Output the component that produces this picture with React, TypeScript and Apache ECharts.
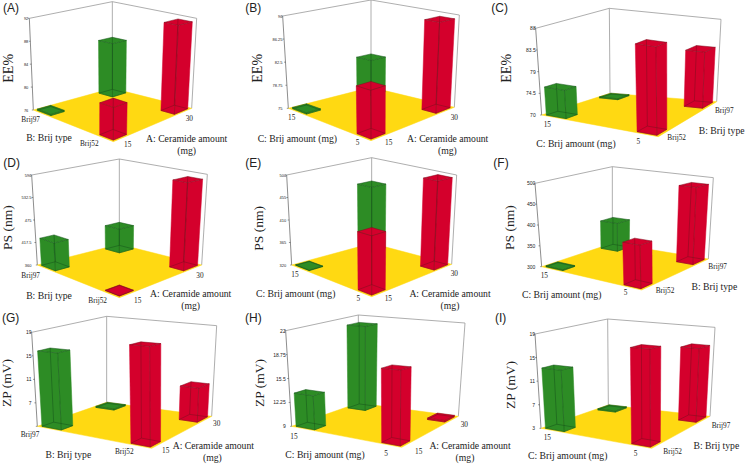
import React, { useEffect, useRef } from "react";
import * as echarts from "echarts";

// Values per panel, in drawing order: back, left, right, front corner of the floor
const ticksA = [76, 80, 84, 88, 92];
const valuesA = [85.6, 76.2, 91.4, 81.1];
const ticksB = [75, 78.75, 82.5, 86.25, 90];
const valuesB = [80.9, 75.2, 89.4, 82];
const ticksC = [70, 74.5, 79, 83.5, 88];
const valuesC = [70.2, 75.8, 82, 87.6];
const ticksD = [360, 417.5, 475, 532.5, 590];
const valuesD = [422, 429, 578, 361];
const ticksE = [320, 365, 410, 455, 500];
const valuesE = [453, 321, 495, 426];
const ticksF = [300, 350, 400, 450, 500];
const valuesF = [370, 302, 484, 392];
const ticksG = [3, 7, 11, 15, 19];
const labelsG = [7, 11, 15, 19];
const valuesG = [3.2, 15.8, 8.8, 18.2];
const ticksH = [9, 12.25, 15.5, 18.75, 22];
const valuesH = [21, 13.5, 9.2, 18.1];
const ticksI = [3, 7, 11, 15, 19];
const valuesI = [3.2, 13.2, 15.8, 18];

const CER = "A: Ceramide amount";
const BAM = "C: Brij amount (mg)";
const BTY = "B: Brij type";

type Pt = [number, number];
type Tx = [string, number, number];
type Panel = {
  letter: string; unit: string; ticks: number[]; labels?: number[]; values: number[]; origin: Pt; tickFont: number;
  L: Pt; F: Pt; R: Pt; B: Pt; LT: Pt; BT: Pt; RT: Pt;
  letterAt: Pt; unitAt: Pt; texts: Tx[]; small: Tx[];
};

// Corner and label positions are given in 3x crop coordinates relative to origin
const panels: Panel[] = [
  { letter: "(A)", unit: "EE%", ticks: ticksA, values: valuesA, origin: [0, 0], tickFont: 4,
    L: [100, 330], F: [340, 425], R: [575, 325], B: [337, 265], LT: [88, 55], BT: [337, 5], RT: [590, 55],
    letterAt: [33, 25], unitAt: [25, 205],
    small: [["Brij97", 92, 357], ["Brij52", 268, 430], ["15", 383, 433], ["30", 568, 355]],
    texts: [[BTY, 147, 413], [CER, 560, 414], ["(mg)", 560, 450]] },
  { letter: "(B)", unit: "EE%", ticks: ticksB, values: valuesB, origin: [245, 0], tickFont: 4,
    L: [130, 325], F: [378, 422], R: [628, 322], B: [378, 262], LT: [113, 48], BT: [378, 0], RT: [643, 45],
    letterAt: [25, 25], unitAt: [38, 205],
    small: [["15", 140, 353], ["5", 338, 427], ["15", 431, 427], ["30", 628, 352]],
    texts: [[BAM, 157, 414], [CER, 608, 416], ["(mg)", 607, 450]] },
  { letter: "(C)", unit: "EE%", ticks: ticksC, values: valuesC, origin: [495, 0], tickFont: 5,
    L: [140, 345], F: [490, 410], R: [665, 305], B: [345, 280], LT: [122, 85], BT: [343, 25], RT: [678, 58],
    letterAt: [14, 25], unitAt: [35, 205],
    small: [["15", 157, 372], ["5", 430, 423], ["Brij52", 545, 413], ["Brij97", 688, 332]],
    texts: [[BAM, 243, 430], [BTY, 680, 392]] },
  { letter: "(D)", unit: "PS (nm)", ticks: ticksD, values: valuesD, origin: [0, 155], tickFont: 4,
    L: [112, 330], F: [358, 428], R: [605, 330], B: [358, 268], LT: [95, 60], BT: [358, 12], RT: [622, 58],
    letterAt: [35, 25], unitAt: [23, 218],
    small: [["Brij97", 92, 360], ["Brij52", 293, 435], ["15", 413, 435], ["30", 600, 360]],
    texts: [[BTY, 147, 422], [CER, 572, 416], ["(mg)", 572, 450]] },
  { letter: "(E)", unit: "PS (nm)", ticks: ticksE, values: valuesE, origin: [245, 155], tickFont: 4,
    L: [140, 330], F: [380, 425], R: [620, 328], B: [380, 265], LT: [125, 60], BT: [380, 8], RT: [635, 60],
    letterAt: [25, 25], unitAt: [40, 220],
    small: [["15", 150, 357], ["5", 340, 430], ["15", 430, 430], ["30", 628, 355]],
    texts: [[BAM, 152, 416], [CER, 615, 414], ["(mg)", 615, 450]] },
  { letter: "(F)", unit: "PS (nm)", ticks: ticksF, values: valuesF, origin: [495, 155], tickFont: 5,
    L: [140, 335], F: [440, 405], R: [640, 312], B: [352, 265], LT: [120, 85], BT: [352, 35], RT: [655, 68],
    letterAt: [18, 25], unitAt: [43, 218],
    small: [["15", 148, 360], ["5", 392, 412], ["Brij52", 510, 407], ["Brij97", 668, 335]],
    texts: [[BAM, 200, 418], [BTY, 658, 395]] },
  { letter: "(G)", unit: "ZP (mV)", ticks: ticksG, labels: labelsG, values: valuesG, origin: [0, 309], tickFont: 5,
    L: [112, 352], F: [455, 418], R: [635, 322], B: [320, 280], LT: [95, 70], BT: [320, 22], RT: [650, 50],
    letterAt: [32, 28], unitAt: [18, 222],
    small: [["Brij97", 90, 377], ["Brij52", 373, 428], ["15", 497, 424], ["30", 650, 343]],
    texts: [[BTY, 205, 436], [CER, 640, 410], ["(mg)", 637, 445]] },
  { letter: "(H)", unit: "ZP (mV)", ticks: ticksH, values: valuesH, origin: [245, 309], tickFont: 5,
    L: [140, 352], F: [470, 415], R: [640, 322], B: [340, 282], LT: [122, 65], BT: [340, 18], RT: [660, 42],
    letterAt: [25, 28], unitAt: [43, 222],
    small: [["15", 147, 382], ["5", 423, 433], ["15", 521, 427], ["30", 658, 345]],
    texts: [[BAM, 240, 436], [CER, 675, 410], ["(mg)", 660, 445]] },
  { letter: "(I)", unit: "ZP (mV)", ticks: ticksI, values: valuesI, origin: [495, 309], tickFont: 5,
    L: [138, 358], F: [470, 418], R: [645, 322], B: [340, 288], LT: [120, 75], BT: [338, 30], RT: [660, 55],
    letterAt: [17, 28], unitAt: [45, 228],
    small: [["15", 157, 384], ["5", 422, 433], ["Brij52", 533, 428], ["Brij97", 678, 350]],
    texts: [[BAM, 218, 440], [BTY, 664, 410]] },
];

const RED = "#d4002c";
const RED_EDGE = "#7d0f1e";
const GREEN = "#2d8c25";
const GREEN_EDGE = "#14521a";
const YELLOW = "#ffd912";
const FRAME = "#999999";
const AXIS_EDGE = "#707070";
const SIZE = 0.17;
const INSET = 0.025;
const CELLS: Pt[] = [[1, 1], [0, 1], [1, 0], [0, 0]];
const SERIF = "Liberation Serif";

function px(p: Panel, q: Pt): Pt {
  return [p.origin[0] + q[0] / 3, p.origin[1] + q[1] / 3];
}

function projector(p: Panel) {
  const L = px(p, p.L), F = px(p, p.F), R = px(p, p.R), B = px(p, p.B);
  const LT = px(p, p.LT), BT = px(p, p.BT), RT = px(p, p.RT);
  const frontLift = 1.08;
  const FT: Pt = [
    F[0] + (LT[0] - L[0]) + (RT[0] - R[0]) - (BT[0] - B[0]),
    F[1] + ((LT[1] - L[1]) + (RT[1] - R[1]) - (BT[1] - B[1])) * frontLift,
  ];
  const bi = (c: Pt[], a: number, b: number, i: number) =>
    c[0][i] * (1 - a) * (1 - b) + c[1][i] * a * (1 - b) + c[2][i] * (1 - a) * b + c[3][i] * a * b;
  return (a: number, b: number, w: number): number[] => {
    const g = [F, R, L, B], t = [FT, RT, LT, BT];
    return [0, 1].map((i) => bi(g, a, b, i) * (1 - w) + bi(t, a, b, i) * w);
  };
}

const poly = (points: number[][], fill: string, stroke: string, lineWidth = 0.5) => ({
  type: "polygon", shape: { points }, style: { fill, stroke, lineWidth },
});
const seg = (a: number[], b: number[], stroke: string, lineWidth = 0.5) => ({
  type: "line", shape: { x1: a[0], y1: a[1], x2: b[0], y2: b[1] }, style: { stroke, lineWidth, fill: "none" },
});

function buildOption() {
  const grid: any[] = [], xAxis: any[] = [], yAxis: any[] = [], series: any[] = [], graphic: any[] = [];
  panels.forEach((p, idx) => {
    const P = projector(p);
    const LT = px(p, p.LT), L = px(p, p.L);
    const lo = p.ticks[0], hi = p.ticks[p.ticks.length - 1];
    const axisX = (LT[0] + L[0]) / 2;
    grid.push({ left: axisX, top: LT[1], width: 160, height: L[1] - LT[1] });
    xAxis.push({ type: "value", gridIndex: idx, min: 0, max: 3, show: false });
    yAxis.push({
      type: "value", gridIndex: idx, min: lo, max: hi, position: "left",
      axisLine: { show: false }, axisTick: { show: false }, splitLine: { show: false },
      axisLabel: { customValues: p.labels ?? p.ticks, fontSize: p.tickFont, color: "#222", margin: 3, fontFamily: "Liberation Sans" },
    });
    const fracOf = (api: any, v: number) => (L[1] - api.coord([0, v])[1]) / (L[1] - LT[1]);
    // floor and frame
    series.push({
      type: "custom", xAxisIndex: idx, yAxisIndex: idx, coordinateSystem: "cartesian2d", clip: false, silent: true,
      data: [[0, lo]], encode: { x: 0, y: 1 },
      renderItem: (_: any, api: any) => {
        const children: any[] = [
          seg(P(0, 1, 0), P(0, 1, 1), AXIS_EDGE, 0.8), seg(P(0, 1, 1), P(1, 1, 1), FRAME, 0.8),
          seg(P(1, 1, 1), P(1, 0, 1), FRAME, 0.8), seg(P(1, 0, 1), P(1, 0, 0), FRAME, 0.8),
          seg(P(1, 1, 1), P(1, 1, 0), FRAME, 0.8),
          poly([P(0, 1, 0), P(0, 0, 0), P(1, 0, 0), P(1, 1, 0)], YELLOW, YELLOW),
        ];
        p.ticks.forEach((t) => {
          const q = P(0, 1, fracOf(api, t));
          children.push(seg([q[0] - 1.5, q[1]], q, "#333", 0.5));
        });
        return { type: "group", children };
      },
    });
    // bars
    series.push({
      type: "custom", xAxisIndex: idx, yAxisIndex: idx, coordinateSystem: "cartesian2d", clip: false, silent: true,
      data: p.values.map((v, i) => [i, v]), encode: { x: 0, y: 1 },
      renderItem: (_: any, api: any) => {
        const cell = CELLS[api.value(0)];
        const w = fracOf(api, api.value(1));
        const a0 = cell[0] ? 1 - INSET - SIZE : INSET, a1 = a0 + SIZE;
        const b0 = cell[1] ? 1 - INSET - SIZE : INSET, b1 = b0 + SIZE;
        const red = cell[1] === 0;
        const fill = red ? RED : GREEN, edge = red ? RED_EDGE : GREEN_EDGE;
        const f0 = P(a0, b0, 0), r0 = P(a1, b0, 0), l0 = P(a0, b1, 0), k0 = P(a1, b1, 0);
        const f1 = P(a0, b0, w), r1 = P(a1, b0, w), l1 = P(a0, b1, w), k1 = P(a1, b1, w);
        return {
          type: "group",
          children: [
            poly([l0, f0, f1, l1], fill, fill),
            poly([f0, r0, r1, f1], fill, fill),
            poly([l1, f1, r1, k1], fill, edge),
            seg(f0, f1, edge), seg(k0, k1, edge), seg(l0, k0, edge), seg(k0, r0, edge),
            seg(l0, f0, edge), seg(f0, r0, edge),
          ],
        };
      },
    });
    const txt = (s: string, q: Pt, font: string, size: number, rotation = 0) => {
      const at = px(p, q);
      graphic.push({
        type: "text", x: at[0], y: at[1], rotation, z: 20,
        style: { text: s, fontFamily: font, fontSize: size, fill: "#222", align: "center", verticalAlign: "middle" },
      });
    };
    txt(p.letter, p.letterAt, "Liberation Sans", 12);
    txt(p.unit, p.unitAt, SERIF, p.unit === "EE%" ? 14 : 13.5, Math.PI / 2);
    p.small.forEach((t) => txt(t[0], [t[1], t[2]], SERIF, 7.3));
    p.texts.forEach((t) => txt(t[0], [t[1], t[2]], SERIF, 9.7));
  });
  return { animation: false, backgroundColor: "#fff", grid, xAxis, yAxis, series, graphic };
}

export default function App() {
  const ref = useRef<HTMLDivElement>(null);
  useEffect(() => {
    const chart = echarts.init(ref.current!, undefined, { renderer: "svg" });
    chart.setOption(buildOption() as any);
    return () => chart.dispose();
  }, []);
  return <div ref={ref} style={{ position: "absolute", left: 0, top: 0, width: 745, height: 464 }} />;
}
